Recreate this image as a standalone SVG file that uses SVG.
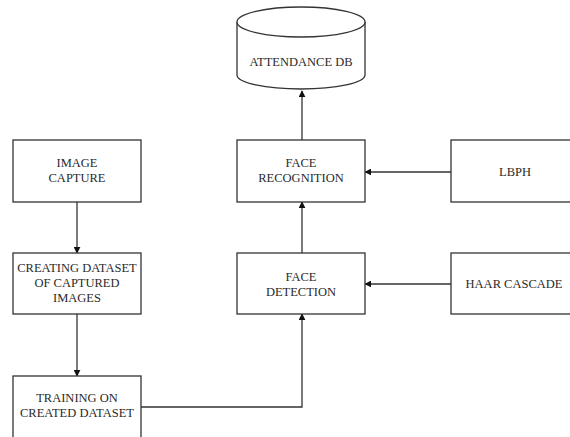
<svg xmlns="http://www.w3.org/2000/svg" width="570" height="437" viewBox="0 0 570 437">
  <style>
    .box { fill: #ffffff; stroke: #333333; stroke-width: 1.3; }
    .lbl { font-family: 'Liberation Serif', Tinos, 'Times New Roman', 'DejaVu Serif', serif; font-size: 12.5px; fill: #2a2a2a; text-anchor: middle; }
    .edge { fill: none; stroke: #333333; stroke-width: 1.3; marker-end: url(#arrow); }
  </style>
  <defs>
    <marker id="arrow" viewBox="0 0 10 10" refX="9" refY="5" markerWidth="7" markerHeight="7" markerUnits="userSpaceOnUse" orient="auto">
      <path d="M0,0 L10,5 L0,10 z" fill="#111111"/>
    </marker>
  </defs>
  <rect width="570" height="437" fill="#ffffff"/>

  <g id="connectors">
    <line class="edge" x1="77" y1="202" x2="77" y2="253"/>
    <line class="edge" x1="77" y1="314" x2="77" y2="376"/>
    <polyline class="edge" points="141,407 302,407 302,314"/>
    <line class="edge" x1="302" y1="253" x2="302" y2="202"/>
    <line class="edge" x1="302" y1="140" x2="302" y2="91"/>
    <line class="edge" x1="451" y1="172" x2="365" y2="172"/>
    <line class="edge" x1="451" y1="284" x2="365" y2="284"/>
  </g>

  <g id="attendance-db">
    <path class="box" d="M237,22 L237,75 A64,14 0 0 0 365,75 L365,22 A64,15 0 0 0 237,22 Z"/>
    <path class="box" d="M237,22 A64,15 0 0 0 365,22"/>
    <text class="lbl" x="301" y="66">ATTENDANCE DB</text>
  </g>

  <g id="image-capture">
    <rect class="box" x="13" y="140" width="128" height="62"/>
    <text class="lbl" x="77" y="167">IMAGE</text>
    <text class="lbl" x="77" y="182">CAPTURE</text>
  </g>

  <g id="creating-dataset">
    <rect class="box" x="13" y="253" width="128" height="61"/>
    <text class="lbl" x="77" y="272">CREATING DATASET</text>
    <text class="lbl" x="77" y="287">OF CAPTURED</text>
    <text class="lbl" x="77" y="302">IMAGES</text>
  </g>

  <g id="training">
    <rect class="box" x="13" y="376" width="128" height="64"/>
    <text class="lbl" x="77" y="402">TRAINING ON</text>
    <text class="lbl" x="77" y="417">CREATED DATASET</text>
  </g>

  <g id="face-recognition">
    <rect class="box" x="237" y="140" width="128" height="62"/>
    <text class="lbl" x="301" y="167">FACE</text>
    <text class="lbl" x="301" y="182">RECOGNITION</text>
  </g>

  <g id="face-detection">
    <rect class="box" x="237" y="253" width="128" height="61"/>
    <text class="lbl" x="301" y="281">FACE</text>
    <text class="lbl" x="301" y="296">DETECTION</text>
  </g>

  <g id="lbph">
    <rect class="box" x="451" y="140" width="128" height="62"/>
    <text class="lbl" x="515" y="176">LBPH</text>
  </g>

  <g id="haar-cascade">
    <rect class="box" x="451" y="253" width="128" height="61"/>
    <text class="lbl" x="514" y="288">HAAR CASCADE</text>
  </g>
</svg>
